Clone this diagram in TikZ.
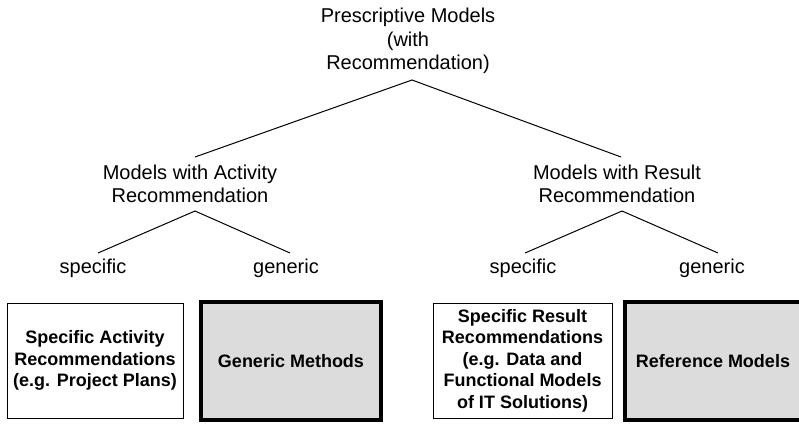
\documentclass[tikz,border=0pt]{standalone}
\usepackage{fontspec}
\setmainfont{Liberation Sans}
\definecolor{boxgray}{RGB}{220,220,220}
\begin{document}
\begin{tikzpicture}[x=1pt,y=-1pt,
  lbl/.style={align=center,inner sep=0pt,font=\fontsize{20}{23.5}\selectfont},
  thinbox/.style={draw=black,line width=1pt,fill=white,align=center,inner sep=0pt,
    font=\fontsize{18}{21.5}\selectfont\bfseries},
  thickbox/.style={draw=black,line width=4pt,fill=boxgray,align=center,inner sep=0pt,
    font=\fontsize{18}{21.5}\selectfont\bfseries},
  branch/.style={line width=1pt}]
\clip (0,0) rectangle (799,423);
\fill[white] (0,0) rectangle (799,423);
% labels
\node[lbl] (root) at (408,41) {Prescriptive Models\\(with\\Recommendation)};
\node[lbl] (act) at (190,184) {Models with Activity\\Recommendation};
\node[lbl] (res) at (617,184) {Models with Result\\Recommendation};
\node[lbl] (s1) at (93,268) {specific};
\node[lbl] (g1) at (286,268) {generic};
\node[lbl] (s2) at (523,268) {specific};
\node[lbl] (g2) at (712,268) {generic};
% connector end points
\coordinate (rootApex) at (412,80);
\coordinate (actTop) at (195,157);
\coordinate (resTop) at (621,157);
\coordinate (actApex) at (195,211);
\coordinate (resApex) at (622,211);
\coordinate (s1Top) at (98,253);
\coordinate (g1Top) at (290,253);
\coordinate (s2Top) at (525,253);
\coordinate (g2Top) at (718,253);
\draw[branch] (actTop) -- (rootApex) -- (resTop);
\draw[branch] (s1Top) -- (actApex) -- (g1Top);
\draw[branch] (s2Top) -- (resApex) -- (g2Top);
% boxes
\node[thinbox,minimum width=176pt,minimum height=115pt] (b1) at (95,360.5)
  {Specific Activity\\Recommendations\\(e.g. Project Plans)};
\node[thickbox,minimum width=180pt,minimum height=118pt] (b2) at (291,361)
  {Generic Methods};
\node[thinbox,minimum width=179pt,minimum height=115pt] (b3) at (522.5,360.5)
  {Specific Result\\Recommendations\\(e.g. Data and\\Functional Models\\of IT Solutions)};
\node[thickbox,minimum width=176pt,minimum height=118pt] (b4) at (713,361)
  {Reference Models};
\end{tikzpicture}
\end{document}
